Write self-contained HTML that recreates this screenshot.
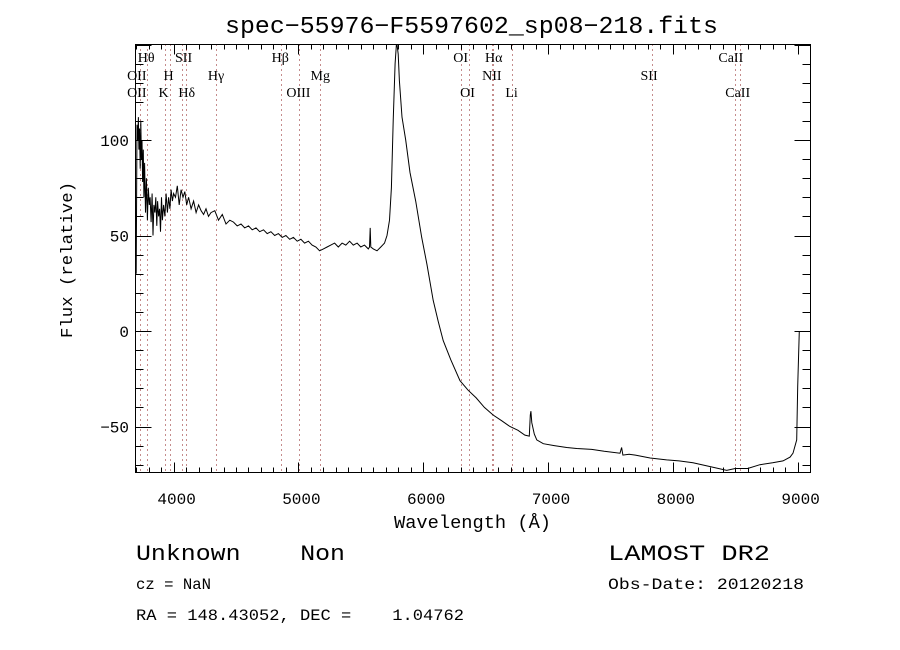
<!DOCTYPE html>
<html><head><meta charset="utf-8"><style>
body{margin:0;background:#fff;}
svg{display:block;}
text{font-family:"Liberation Mono",monospace;fill:#000;}
text.lbl{font-family:"Liberation Serif",serif;}
</style></head><body>
<svg id="chart" width="900" height="650" viewBox="0 0 900 650">
<text x="225" y="33" font-size="24" textLength="493" lengthAdjust="spacingAndGlyphs">spec−55976−F5597602_sp08−218.fits</text>
<g id="lines"></g>
<g id="ticks"></g>
<path id="spec" fill="none" stroke="#000" stroke-width="1"/>
<rect x="135.5" y="44.5" width="675" height="428" fill="none" stroke="#000" stroke-width="1"/>
<text x="394" y="528" font-size="18" textLength="157" lengthAdjust="spacingAndGlyphs">Wavelength (Å)</text>
<text transform="translate(72,338) rotate(-90)" font-size="17" textLength="156" lengthAdjust="spacingAndGlyphs">Flux (relative)</text>
<text x="136" y="560" font-size="22" xml:space="preserve" textLength="209" lengthAdjust="spacingAndGlyphs">Unknown    Non</text>
<text x="608" y="560" font-size="22" textLength="162" lengthAdjust="spacingAndGlyphs">LAMOST DR2</text>
<text x="136" y="589" font-size="16" textLength="75" lengthAdjust="spacingAndGlyphs">cz = NaN</text>
<text x="608" y="589" font-size="16" textLength="196" lengthAdjust="spacingAndGlyphs">Obs-Date: 20120218</text>
<text x="136" y="620" font-size="16" xml:space="preserve" textLength="328" lengthAdjust="spacingAndGlyphs">RA = 148.43052, DEC =    1.04762</text>
</svg>
<script>
const wave = [3700,3707,3712,3718,3722,3727,3732,3737,3742,3747,3752,3757,3762,3768,3775,3782,3790,3797,3805,3812,3820,3828,3835,3842,3850,3857,3865,3872,3880,3888,3895,3903,3910,3920,3930,3940,3950,3960,3970,3980,3990,4000,4015,4030,4045,4060,4075,4090,4105,4120,4140,4160,4180,4200,4220,4240,4260,4280,4300,4330,4360,4390,4420,4450,4480,4510,4540,4570,4600,4630,4660,4690,4720,4750,4780,4810,4840,4870,4900,4930,4960,4990,5020,5050,5080,5110,5140,5170,5200,5230,5260,5290,5320,5350,5380,5410,5440,5470,5500,5530,5560,5570,5575,5580,5600,5630,5660,5690,5710,5730,5745,5760,5775,5785,5790,5800,5809,5830,5860,5894,5940,5988,6030,6080,6120,6160,6220,6295,6360,6425,6490,6560,6630,6695,6760,6815,6850,6858,6863,6870,6890,6910,6962,7050,7150,7230,7350,7450,7577,7590,7600,7650,7700,7818,7950,8050,8162,8300,8432,8500,8600,8698,8800,8883,8940,8963,8993,9001,9014];
const flux = [30,108,100,112,95,106,85,110,90,100,78,95,70,88,62,80,58,75,66,70,57,72,50,66,62,70,55,68,60,64,52,70,58,66,60,72,62,70,64,74,68,72,70,76,66,74,70,73,66,70,64,68,62,66,63,61,64,60,62,63,58,61,56,58,57,55,56,54,55,53,54,52,53,51,52,50,51,49,50,48,49,47,48,46,47,45,44,42,43,44,45,46,44,46,45,47,45,46,44,45,43,44,54,44,43,42,44,46,50,58,75,110,140,151,151,145,131,112,100,83,68,49,35,16,5,-5,-15,-26,-31,-35,-40,-44,-47,-50,-52,-54.5,-55,-44,-42,-48,-54,-57,-59,-60,-61,-61.5,-62,-63,-64,-61,-65,-64.5,-65,-66.5,-67.5,-68,-69,-71,-73,-72,-72,-70,-69,-68,-66,-64,-57,-29,0];
const lineWaves = [3727,3785,3934,3968,4068,4102,4340,4861,5007,5175,6300,6364,6548,6563,6708,7830,8498,8542];
const labelText = ["Hθ","SII","Hβ","OI","Hα","CaII","OII","H","Hγ","Mg","NII","SII","OII","K","Hδ","OIII","OI","Li","CaII"];
const labelWave = [3780,4080,4855,6300,6565,8465,3705,3960,4340,5175,6550,7810,3705,3920,4105,5000,6355,6708,8520];
const labelRow = [0,0,0,0,0,0,1,1,1,1,1,1,2,2,2,2,2,2,2];
const xTicks = [4000,5000,6000,7000,8000,9000];
const yTicks = [100,50,0,-50];
const ns="http://www.w3.org/2000/svg";
const X0=135.5,X1=810.5,Y0=44.5,Y1=472.5;
function xs(w){return 173.6+(w-4000)*0.1248;}
function ys(f){return 331-f*1.91;}
function clampY(v){return Math.max(Y0,Math.min(Y1,v));}
let d="";
for(let i=0;i<wave.length;i++){d+=(i?"L":"M")+xs(wave[i]).toFixed(1)+","+clampY(ys(flux[i])).toFixed(1);}
document.getElementById('spec').setAttribute('d',d);
const lg=document.getElementById('lines');
lineWaves.forEach(w=>{
 const l=document.createElementNS(ns,'line');
 
 
 const x=Math.round(xs(w))+0.5;
 l.setAttribute('x1',x);l.setAttribute('x2',x);l.setAttribute('y1',Y0);l.setAttribute('y2',Y1);
 l.setAttribute('stroke','#8b1a1a');l.setAttribute('stroke-dasharray','1,4');
 lg.appendChild(l);
});
const rowY=[62,80,97];
labelText.forEach((t,i)=>{
 const tx=document.createElementNS(ns,'text');
 
 
 tx.setAttribute('class','lbl');
 tx.setAttribute('x',xs(labelWave[i]));tx.setAttribute('y',rowY[labelRow[i]]);
 tx.setAttribute('text-anchor','middle');tx.setAttribute('font-size','14');
 tx.textContent=t;lg.appendChild(tx);
});
const tg=document.getElementById('ticks');
function ln(x1,y1,x2,y2){const l=document.createElementNS(ns,'line');
 
 
 l.setAttribute('x1',x1);l.setAttribute('y1',y1);l.setAttribute('x2',x2);l.setAttribute('y2',y2);l.setAttribute('stroke','#000');tg.appendChild(l);}
for(let w=3700;w<=9100;w+=100){const x=Math.round(xs(w))+0.5;const L=(w%1000===0)?10:5;ln(x,Y1,x,Y1-L);ln(x,Y0,x,Y0+L);}
for(let f=-70;f<=150;f+=10){const y=Math.round(ys(f))+0.5;const L=(f%50===0)?16:8;ln(X0,y,X0+L,y);ln(X1,y,X1-L,y);}
xTicks.forEach(v=>{const t=document.createElementNS(ns,'text');
 
 
 t.setAttribute('x',xs(v)+3);t.setAttribute('y',504);t.setAttribute('text-anchor','middle');t.setAttribute('font-size','16');t.textContent=v;tg.appendChild(t);});
yTicks.forEach(v=>{const t=document.createElementNS(ns,'text');
 
 
 t.setAttribute('x',129);t.setAttribute('y',ys(v)+6);t.setAttribute('text-anchor','end');t.setAttribute('font-size','16');t.textContent=(v<0?'−'+(-v):v);tg.appendChild(t);});
</script>
</body></html>
